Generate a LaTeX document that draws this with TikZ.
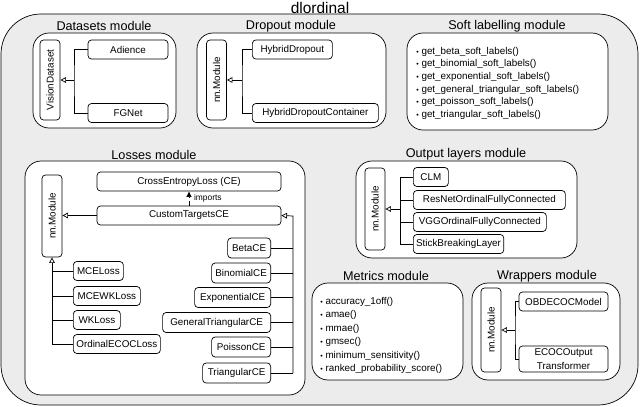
\documentclass[tikz,border=0pt]{standalone}
\usepackage{fontspec}
\setmainfont{Liberation Sans}
\usetikzlibrary{arrows.meta,positioning}

\newcommand{\itembul}{{\fontsize{5}{5}\selectfont\textbullet}\ }

\tikzset{
  cls/.style={draw, fill=white, rounded corners=2.5pt, inner xsep=2pt, inner ysep=0pt,
    minimum height=0.475cm, font=\fontsize{7}{8}\selectfont},
  vcls/.style={cls, minimum width=0.5cm},
  module/.style={draw, fill=white, rounded corners=0.4cm},
  modtitle/.style={font=\fontsize{9}{10}\selectfont},
  inherit/.style={-{Triangle[open,length=4pt,width=4pt]}},
  funclist/.style={anchor=north west, align=left, inner sep=0pt, font=\fontsize{7}{9}\selectfont},
}

\begin{document}
\begin{tikzpicture}[x=0.025cm, y=-0.025cm, line width=0.5pt]
  \useasboundingbox (0,0) rectangle (640,407);

  \draw[fill=gray!15, rounded corners=1cm] (1,14) rectangle (638,405);
  \node[font=\fontsize{11}{13}\selectfont] (title) at (320,8) {dlordinal};

  % Datasets module
  \draw[module] (33,33) rectangle (176,128);
  \node[modtitle] (dstitle) at (104,26) {Datasets module};
  \node[vcls, minimum height=2cm] (vision) at (50,80) {\rotatebox{90}{VisionDataset}};
  \node[cls, minimum width=2cm] (adience) at (128,49.5) {Adience};
  \node[cls, minimum width=2cm] (fgnet) at (128,113) {FGNet};
  \coordinate (dsj) at (74,80);
  \draw (adience.west) -| (dsj) |- (fgnet.west);
  \draw[inherit] (dsj) -- (vision.east);

  % Dropout module
  \draw[module] (197,33) rectangle (386,128);
  \node[modtitle] (droptitle) at (291,26) {Dropout module};
  \node[vcls, minimum height=2cm] (dropnn) at (216.5,80) {\rotatebox{90}{nn.Module}};
  \node[cls, anchor=west, minimum width=2cm] (hdrop) at (252,49.5) {HybridDropout};
  \node[cls, anchor=west, minimum width=3.15cm] (hdropc) at (252,113) {HybridDropoutContainer};
  \coordinate (dropj) at (242,80);
  \draw (hdrop.west) -| (dropj) |- (hdropc.west);
  \draw[inherit] (dropj) -- (dropnn.east);

  % Soft labelling module
  \draw[module] (407,33) rectangle (608,130);
  \node[modtitle] (softtitle) at (507,26) {Soft labelling module};
  \node[funclist, font=\fontsize{7}{8.9}\selectfont] (softlist) at (416,47) {%
    \itembul get\_beta\_soft\_labels()\\
    \itembul get\_binomial\_soft\_labels()\\
    \itembul get\_exponential\_soft\_labels()\\
    \itembul get\_general\_triangular\_soft\_labels()\\
    \itembul get\_poisson\_soft\_labels()\\
    \itembul get\_triangular\_soft\_labels()};

  % Losses module
  \draw[module] (25,161) rectangle (305,395);
  \node[modtitle] (losstitle) at (154,155) {Losses module};
  \node[vcls, minimum height=2.05cm] (lossnn) at (52,216) {\rotatebox{90}{nn.Module}};
  \node[cls, minimum width=4.6cm] (ce) at (189,181.5) {CrossEntropyLoss (CE)};
  \node[cls, minimum width=4.6cm] (ctce) at (189,215.5) {CustomTargetsCE};
  \draw[dashed, -{Latex[length=4pt,width=4pt]}] (ctce) --
    node[right, font=\fontsize{6}{7}\selectfont] {imports} (ce);
  \draw[inherit] (ctce.west) -- (ctce.west -| lossnn.east);

  \coordinate (cej) at (293,216);
  \foreach \name/\txt/\w/\y in {beta/BetaCE/1.075/248, binomial/BinomialCE/1.475/273,
      expo/ExponentialCE/1.9/297.5, gentri/GeneralTriangularCE/2.7/322.5,
      poisson/PoissonCE/1.475/347, tri/TriangularCE/1.7/373}{
    \node[cls, anchor=east, minimum width=\w cm, minimum height=0.5cm] (\name) at (271,\y) {\txt};
    \draw (\name.east) -- (\name.east -| cej);
  }
  \draw[inherit] (tri.east -| cej) -- (cej) -- (ctce.east);

  \foreach \name/\txt/\w/\y in {mce/MCELoss/1.25/271, mcewk/MCEWKLoss/1.675/296,
      wk/WKLoss/1.175/320, ecoc/OrdinalECOCLoss/2.175/344}{
    \node[cls, anchor=west, minimum width=\w cm] (\name) at (73,\y) {\txt};
    \draw (\name.west) -- (\name.west -| lossnn.south);
  }
  \draw[inherit] (ecoc.west -| lossnn.south) -- (lossnn.south);

  % Output layers module
  \draw[module] (356,161) rectangle (577,258);
  \node[modtitle] (outtitle) at (466,154) {Output layers module};
  \node[vcls, minimum height=2.05cm] (outnn) at (375,209) {\rotatebox{90}{nn.Module}};
  \coordinate (outj) at (400,209);
  \foreach \name/\txt/\w/\y in {clm/CLM/0.875/177, resnet/ResNetOrdinalFullyConnected/3.8/200,
      vgg/VGGOrdinalFullyConnected/3.325/222, stick/StickBreakingLayer/2.25/244}{
    \node[cls, anchor=west, minimum width=\w cm] (\name) at (413,\y) {\txt};
    \draw (\name.west) -- (\name.west -| outj);
  }
  \draw (clm.west -| outj) -- (stick.west -| outj);
  \draw[inherit] (outj) -- (outnn.east);

  % Metrics module
  \draw[module] (312,283) rectangle (463,380);
  \node[modtitle] (mettitle) at (386,276) {Metrics module};
  \node[funclist, font=\fontsize{7}{9.6}\selectfont] (metlist) at (320,297) {%
    \itembul accuracy\_1off()\\
    \itembul amae()\\
    \itembul mmae()\\
    \itembul gmsec()\\
    \itembul minimum\_sensitivity()\\
    \itembul ranked\_probability\_score()};

  % Wrappers module
  \draw[module] (472,283) rectangle (620,380);
  \node[modtitle] (wraptitle) at (547,276) {Wrappers module};
  \node[vcls, minimum height=2.1cm] (wrapnn) at (491,330) {\rotatebox{90}{nn.Module}};
  \node[cls, minimum width=2.225cm] (obdecoc) at (563.5,301.5) {OBDECOCModel};
  \node[cls, minimum width=2.225cm, minimum height=0.65cm, align=center,
    font=\fontsize{7}{10}\selectfont] (ecocout) at (563.5,359) {ECOCOutput\\Transformer};
  \coordinate (wrapj) at (515,330);
  \draw (obdecoc.west) -| (wrapj) |- (ecocout.west);
  \draw[inherit] (wrapj) -- (wrapnn.east);
\end{tikzpicture}
\end{document}
